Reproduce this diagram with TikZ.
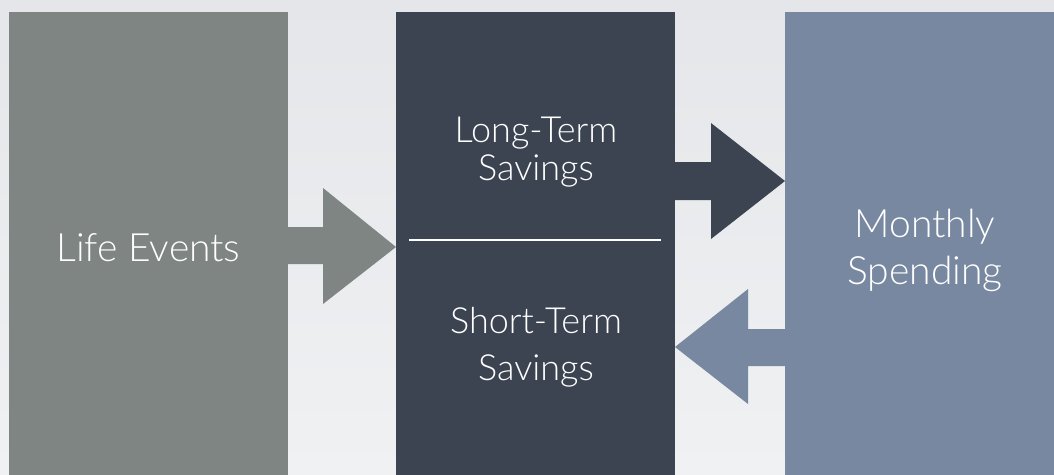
\documentclass[tikz,border=0pt]{standalone}
\usepackage{fontspec}
\setmainfont{Lato Light}
\usetikzlibrary{calc}
\definecolor{bgtop}{HTML}{E4E6E9}
\definecolor{bgbot}{HTML}{F0F1F3}
\definecolor{lifegray}{HTML}{7F8582}
\definecolor{savedark}{HTML}{3D4451}
\definecolor{spendblue}{HTML}{7888A0}
\tikzset{
  col/.style={draw=none, rectangle, anchor=north west, minimum width=279pt, minimum height=480pt, inner sep=0pt, outer sep=0pt},
  bigtxt/.style={text=white, anchor=base, inner sep=0pt, font=\fontsize{39}{47}\selectfont},
  midtxt/.style={text=white, anchor=base, inner sep=0pt, font=\fontsize{36}{38}\selectfont}
}
\begin{document}
\begin{tikzpicture}[x=1pt,y=-1pt]
\useasboundingbox (0,0) rectangle (1054,474);
\clip (0,0) rectangle (1054,474);
\shade[top color=bgtop, bottom color=bgbot] (0,0) rectangle (1054,474);
\node[col, fill=lifegray] (life) at (9,12) {};
\node[col, fill=savedark] (save) at (396,12) {};
\node[col, fill=spendblue] (spend) at (785,12) {};
% arrows
\fill[lifegray] ($(life.north east)+(0,215)$) -- ($(life.north east)+(35,215)$) -- ($(life.north east)+(35,176)$)
  -- ($(save.north west)+(0,235)$) -- ($(life.north east)+(35,292)$) -- ($(life.north east)+(35,252)$)
  -- ($(life.north east)+(0,252)$) -- cycle;
\fill[savedark] ($(save.north east)+(-1,150)$) -- ($(save.north east)+(36,150)$) -- ($(save.north east)+(36,111)$)
  -- ($(spend.north west)+(0,169)$) -- ($(save.north east)+(36,227)$) -- ($(save.north east)+(36,188)$)
  -- ($(save.north east)+(-1,188)$) -- cycle;
\fill[spendblue] ($(spend.north west)+(1,317)$) -- ($(spend.north west)+(-37,317)$) -- ($(spend.north west)+(-37,277)$)
  -- ($(save.north east)+(0,335)$) -- ($(spend.north west)+(-37,392)$) -- ($(spend.north west)+(-37,354)$)
  -- ($(spend.north west)+(1,354)$) -- cycle;
% divider
\coordinate (dl) at (409,240);
\coordinate (dr) at (661,240);
\draw[white, line width=1.4pt] (dl) -- (dr);
% texts
\node[bigtxt] (t1) at (148.5,261) {Life Events};
\node[midtxt] (t2) at (536,142) {Long-Term};
\node[midtxt] (t3) at (536,180) {Savings};
\node[midtxt] (t4) at (536,333) {Short-Term};
\node[midtxt] (t5) at (536,380) {Savings};
\node[bigtxt] (t6) at (925,237) {Monthly};
\node[bigtxt] (t7) at (925,284) {Spending};
\end{tikzpicture}
\end{document}
